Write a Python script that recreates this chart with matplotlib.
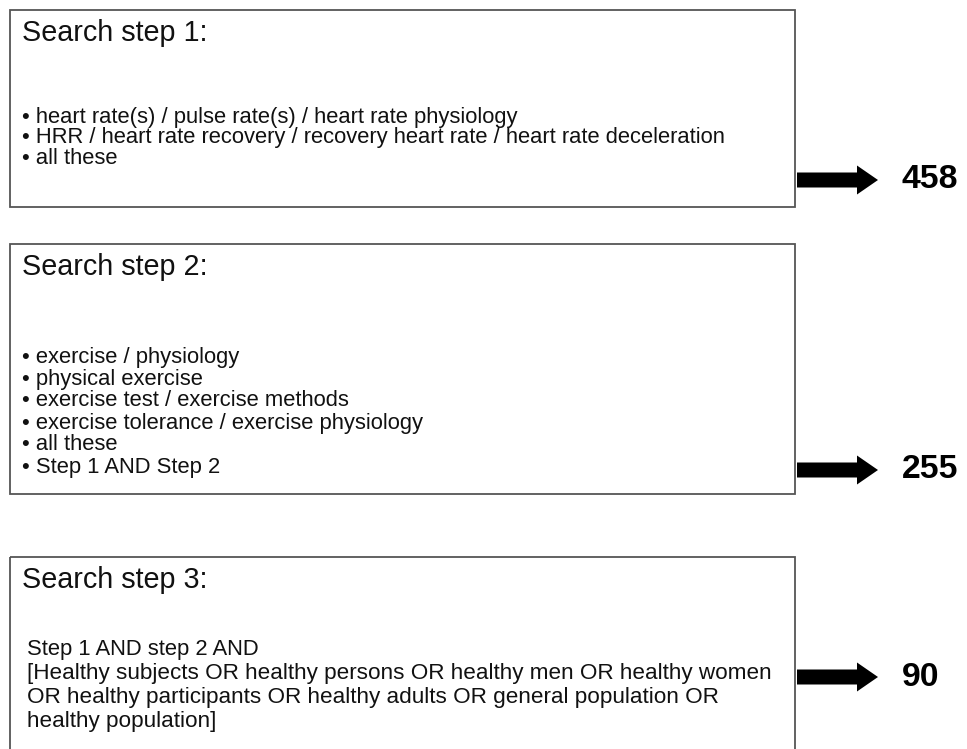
import matplotlib
matplotlib.use('Agg')
import matplotlib.pyplot as plt
from matplotlib.patches import Rectangle, FancyArrow

plt.rcParams['font.family'] = ['Liberation Sans', 'DejaVu Sans']

titles = ['Search step 1:', 'Search step 2:', 'Search step 3:']
step1_lines = [
    '\u2022 heart rate(s) / pulse rate(s) / heart rate physiology',
    '\u2022 HRR / heart rate recovery / recovery heart rate / heart rate deceleration',
    '\u2022 all these',
]
step2_lines = [
    '\u2022 exercise / physiology',
    '\u2022 physical exercise',
    '\u2022 exercise test / exercise methods',
    '\u2022 exercise tolerance / exercise physiology',
    '\u2022 all these',
    '\u2022 Step 1 AND Step 2',
]
step3_lines = [
    'Step 1 AND step 2 AND',
    '[Healthy subjects OR healthy persons OR healthy men OR healthy women',
    'OR healthy participants OR healthy adults OR general population OR',
    'healthy population]',
]
counts = [458, 255, 90]

# layout in pixel coords (y down)
box_top = [10, 244, 557]
box_bottom = [207, 494, 760]
first_line_y = [118, 357, 650]
line_gap = [20, 22, 24]
arrow_y = [180, 470, 677]
text_x = [22, 22, 27]
line_size = [[15.8] * 3, [15.8] * 6, [15.8, 16.2, 16.2, 16.2]]

fig = plt.figure(figsize=(9.67, 7.49), dpi=100)
ax = fig.add_axes([0, 0, 1, 1])
ax.set_xlim(0, 967)
ax.set_ylim(749, 0)
ax.axis('off')

all_lines = [step1_lines, step2_lines, step3_lines]
for i in range(3):
    ax.add_patch(Rectangle((10, box_top[i]), 785, box_bottom[i] - box_top[i],
                           fill=False, edgecolor='#555555', linewidth=1.3))
    ax.text(22, box_top[i] + 23, titles[i], fontsize=20.7, va='center', ha='left', color='#111111')
    for j, line in enumerate(all_lines[i]):
        ax.text(text_x[i], first_line_y[i] + j * line_gap[i], line, fontsize=line_size[i][j],
                va='center', ha='left', color='#111111')
    ax.add_patch(FancyArrow(797, arrow_y[i], 81, 0, width=15, head_width=29,
                            head_length=21, length_includes_head=True,
                            color='black', linewidth=0))
    ax.text(902, arrow_y[i], str(counts[i]), fontsize=24.3, fontweight='bold',
            va='center', ha='left', color='black')

fig.savefig('out.png', dpi=100)
